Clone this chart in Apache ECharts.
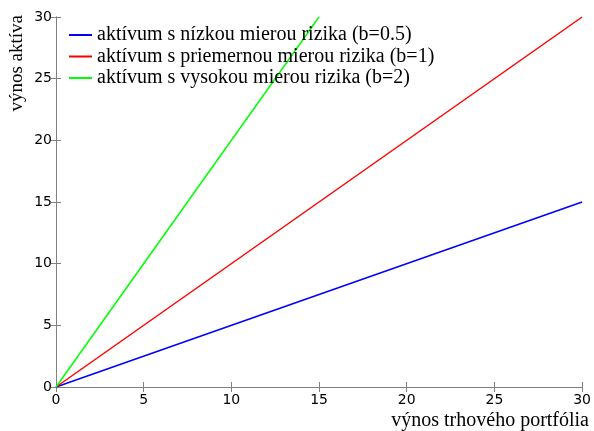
<!DOCTYPE html>
<html><head><meta charset="utf-8">
<script src="https://cdn.jsdelivr.net/npm/echarts@6/dist/echarts.min.js"></script>
<style>html,body{margin:0;padding:0;background:#fff}#c{width:594px;height:431px}</style>
</head><body><div id="c"></div>
<script>
var seriesNames = ['aktívum s nízkou mierou rizika (b=0.5)', 'aktívum s priemernou mierou rizika (b=1)', 'aktívum s vysokou mierou rizika (b=2)'];
var lowX = [0, 30];   var lowY = [0, 15];
var midX = [0, 30];   var midY = [0, 30];
var highX = [0, 15];  var highY = [0, 30];
var xTicks = [0, 5, 10, 15, 20, 25, 30];
var yTicks = [0, 5, 10, 15, 20, 25, 30];
var colors = ['#0000ff', '#ff0000', '#00ff00'];
var xName = 'výnos trhového portfólia';
var yName = 'výnos aktíva';

function pairs(xs, ys){ return xs.map(function(x,i){ return [x, ys[i]]; }); }

var chart = echarts.init(document.getElementById('c'));
var axCol = '#808080';
var serif = '"Liberation Serif", serif';
var lblStyle = {color:'#000', fontFamily:'DejaVu Sans', fontSize:14};
chart.setOption({
  animation:false,
  grid:{left:56, right:11, top:17, bottom:44, containLabel:false},
  legend:{
    orient:'vertical', left:64, top:20, padding:5, itemWidth:23, itemHeight:2, itemGap:1.5, icon:'rect',
    textStyle:{fontFamily:serif, fontSize:20, lineHeight:20, color:'#000'},
    data:seriesNames
  },
  xAxis:[
    {type:'value', min:xTicks[0], max:xTicks[xTicks.length-1], interval:5, position:'bottom',
     axisLine:{lineStyle:{color:axCol,width:1}}, axisTick:{inside:true,length:5,lineStyle:{color:axCol}},
     axisLabel:Object.assign({margin:6}, lblStyle), splitLine:{show:false}},
    {type:'value', min:xTicks[0], max:xTicks[xTicks.length-1], interval:5, position:'top',
     axisLine:{lineStyle:{color:axCol,width:1}}, axisTick:{inside:true,length:5,lineStyle:{color:axCol}},
     axisLabel:{show:false}, splitLine:{show:false}}
  ],
  yAxis:[
    {type:'value', min:yTicks[0], max:yTicks[yTicks.length-1], interval:5, position:'left',
     axisLine:{show:true,lineStyle:{color:axCol,width:1}}, axisTick:{show:true,inside:true,length:5,lineStyle:{color:axCol}},
     axisLabel:Object.assign({margin:4}, lblStyle), splitLine:{show:false}},
    {type:'value', min:yTicks[0], max:yTicks[yTicks.length-1], interval:5, position:'right',
     axisLine:{show:true,lineStyle:{color:axCol,width:1}}, axisTick:{show:true,inside:true,length:5,lineStyle:{color:axCol}},
     axisLabel:{show:false}, splitLine:{show:false}}
  ],
  series:[
    {name:seriesNames[0], type:'line', data:pairs(lowX, lowY), showSymbol:false, lineStyle:{color:colors[0],width:1.5}, itemStyle:{color:colors[0]}},
    {name:seriesNames[1], type:'line', data:pairs(midX, midY), showSymbol:false, lineStyle:{color:colors[1],width:1.5}, itemStyle:{color:colors[1]}},
    {name:seriesNames[2], type:'line', data:pairs(highX, highY), showSymbol:false, lineStyle:{color:colors[2],width:1.5}, itemStyle:{color:colors[2]}}
  ],
  graphic:[
    {type:'text', x:589, y:421, style:{text:xName, fontFamily:serif, fontSize:20, fill:'#000', textAlign:'right', textVerticalAlign:'middle'}},
    {type:'text', x:17, y:15, rotation:Math.PI/2, style:{text:yName, fontFamily:serif, fontSize:19, fill:'#000', textAlign:'right', textVerticalAlign:'middle'}}
  ]
});
</script></body></html>
